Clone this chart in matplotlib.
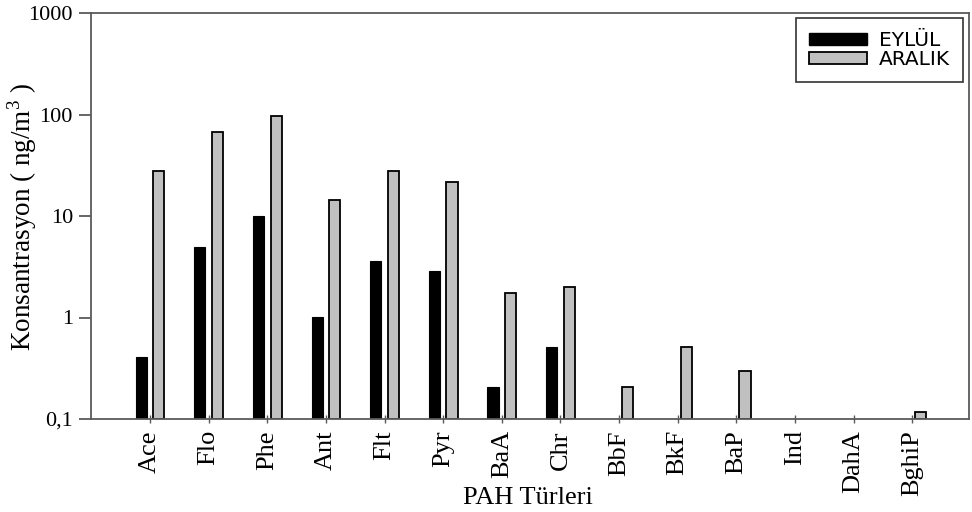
import numpy as np
import matplotlib
matplotlib.use('Agg')
import matplotlib.pyplot as plt
from matplotlib.patches import Patch

# data (ng/m3, log scale)
species = ['Ace', 'Flo', 'Phe', 'Ant', 'Flt', 'Pyr', 'BaA', 'Chr',
           'BbF', 'BkF', 'BaP', 'Ind', 'DahA', 'BghiP']
eylul = [0.41, 5.0, 10.0, 1.01, 3.6, 2.85, 0.205, 0.51,
         np.nan, np.nan, np.nan, np.nan, np.nan, np.nan]
aralik = [27.7, 67, 96, 14.4, 28, 21.5, 1.74, 2.0,
          0.205, 0.51, 0.295, np.nan, np.nan, 0.117]
series_names = ['EYLÜL', 'ARALIK']
ytick_vals = [0.1, 1, 10, 100, 1000]
ytick_labels = ['0,1', '1', '10', '100', '1000']

plt.rcParams['font.family'] = ['Liberation Serif', 'DejaVu Serif']
plt.rcParams['mathtext.fontset'] = 'custom'
plt.rcParams['mathtext.rm'] = 'Liberation Serif'

fig = plt.figure(figsize=(9.72, 5.12), dpi=100)
ax = fig.add_axes([91 / 972, 1 - 419 / 512, (969 - 91) / 972, (419 - 13) / 512])

x = np.arange(len(species))
w = 0.19
base = 0.1
e = np.array(eylul)
a = np.array(aralik)
ax.bar(x - 0.15, e - base, w, bottom=base, color='black', edgecolor='black', linewidth=0.8)
ax.bar(x + 0.15, a - base, w, bottom=base, color='#c0c0c0', edgecolor='black', linewidth=1.3)

ax.set_yscale('log')
ax.set_ylim(0.1, 1000)
ax.set_xlim(-1.007, 13.97)
ax.set_yticks(ytick_vals)
ax.set_yticklabels(ytick_labels, fontsize=16)
ax.yaxis.set_minor_locator(matplotlib.ticker.NullLocator())
ax.set_xticks(x)
ax.set_xticklabels(species, rotation=90, fontsize=19, va='top')

spine_col = '#5a5a5a'
for s in ax.spines.values():
    s.set_color(spine_col)
    s.set_linewidth(1.3)
ax.tick_params(axis='y', direction='out', length=9, width=1.3, color=spine_col, pad=4)
ax.tick_params(axis='x', direction='inout', length=6, width=1.0, color=spine_col, pad=5)

ax.set_xlabel('PAH Türleri', fontsize=19, va='center')
ax.xaxis.set_label_coords(0.498, -0.195)
ax.set_ylabel('Konsantrasyon ( ng/m$^3$ )', fontsize=19.5, va='center')
ax.yaxis.set_label_coords(-0.079, 0.497)

handles = [Patch(facecolor='black', edgecolor='black', label=series_names[0]),
           Patch(facecolor='#c0c0c0', edgecolor='black', linewidth=1.3, label=series_names[1])]
leg = ax.legend(handles=handles, loc='upper right', bbox_to_anchor=(0.9932, 0.9877),
                prop={'family': 'DejaVu Sans', 'size': 14.5},
                frameon=True, fancybox=False, edgecolor='black',
                handlelength=2.85, handleheight=0.6, handletextpad=0.6,
                borderpad=0.65, labelspacing=0.0, borderaxespad=0)
leg.get_frame().set_linewidth(1.2)

fig.savefig('out.png', dpi=100)
